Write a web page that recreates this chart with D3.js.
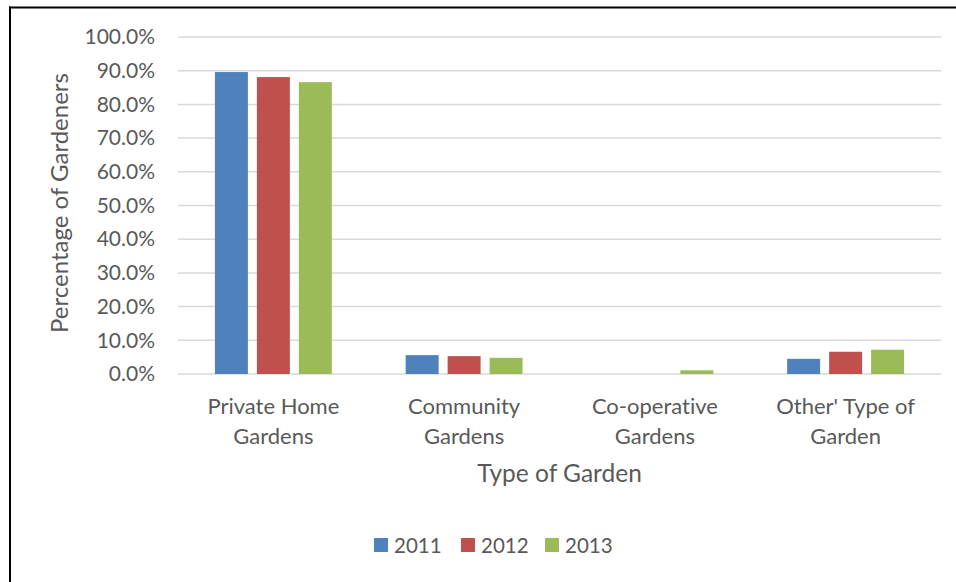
<!DOCTYPE html>
<html>
<head>
<meta charset="utf-8">
<script src="https://cdn.jsdelivr.net/npm/d3@7/dist/d3.min.js"></script>
<style>
  html, body { margin: 0; padding: 0; background: #fff; }
  svg { display: block; }
  text { font-family: Lato, "Open Sans", sans-serif; fill: #595959; font-variant-ligatures: none; font-feature-settings: "liga" 0, "clig" 0; }
</style>
</head>
<body>
<svg id="chart" width="956" height="582"></svg>
<script>
// Gardening survey: share of gardeners by type of garden, per year
const categories = [["Private Home", "Gardens"], ["Community", "Gardens"], ["Co-operative", "Gardens"], ["Other' Type of", "Garden"]];
const years = ["2011", "2012", "2013"];
const values2011 = [0.896, 0.056, 0.000, 0.045];
const values2012 = [0.881, 0.053, 0.000, 0.066];
const values2013 = [0.866, 0.048, 0.011, 0.072];
const yTicks = [0, 0.1, 0.2, 0.3, 0.4, 0.5, 0.6, 0.7, 0.8, 0.9, 1.0];
const colors = ["#4F81BD", "#C0504D", "#9BBB59"];

const series = [values2011, values2012, values2013];
const catKeys = categories.map(c => c.join(" "));

const svg = d3.select("#chart");

// Frame lines along the top and left edges
svg.append("line").attr("x1", 9).attr("x2", 956).attr("y1", 7.5).attr("y2", 7.5)
  .attr("stroke", "#000").attr("stroke-width", 2);
svg.append("line").attr("x1", 10).attr("x2", 10).attr("y1", 6.5).attr("y2", 582)
  .attr("stroke", "#000").attr("stroke-width", 2);

const plot = { left: 178, right: 941, top: 37, bottom: 374 };

const x = d3.scaleBand().domain(catKeys).range([plot.left, plot.right])
  .paddingInner(0.387).paddingOuter(0.1935);
const xs = d3.scaleBand().domain(years).range([0, x.bandwidth()]).paddingInner(0.214);
const y = d3.scaleLinear().domain([0, 1]).range([plot.bottom, plot.top]);

// Gridlines
svg.append("g").selectAll("line").data(yTicks).join("line")
  .attr("x1", plot.left).attr("x2", plot.right)
  .attr("y1", d => y(d)).attr("y2", d => y(d))
  .attr("stroke", "#D9D9D9").attr("stroke-width", 1.5);

// Y axis labels
const yAxis = d3.axisLeft(y).tickValues(yTicks).tickFormat(d3.format(".1%")).tickSize(0).tickPadding(23);
const gy = svg.append("g").attr("transform", `translate(${plot.left},0)`).call(yAxis);
gy.select(".domain").remove();
gy.selectAll("text").style("font-size", "21px").attr("fill", "#595959").style("font-family", "Lato, 'Open Sans', sans-serif");

// Bars
const groups = svg.append("g").selectAll("g").data(years).join("g")
  .attr("fill", (d, i) => colors[i]);
groups.selectAll("rect")
  .data((yr, i) => catKeys.map((c, j) => ({ cat: c, yr, v: series[i][j] })))
  .join("rect")
  .attr("x", d => x(d.cat) + xs(d.yr))
  .attr("width", xs.bandwidth())
  .attr("y", d => y(d.v))
  .attr("height", d => y(0) - y(d.v));

// Category labels (two lines each)
const xl = svg.append("g");
categories.forEach((lines, j) => {
  const cx = x(catKeys[j]) + x.bandwidth() / 2;
  const t = xl.append("text").attr("x", cx).attr("y", 414)
    .attr("text-anchor", "middle").style("font-size", "22px");
  lines.forEach((ln, k) => {
    t.append("tspan").attr("x", cx).attr("dy", k === 0 ? 0 : 30).text(ln);
  });
});

// Axis titles
svg.append("text").attr("x", (plot.left + plot.right) / 2).attr("y", 482)
  .attr("text-anchor", "middle").style("font-size", "24.5px").text("Type of Garden");
svg.append("text").attr("transform", "translate(68,203) rotate(-90)")
  .attr("text-anchor", "middle").style("font-size", "24px").text("Percentage of Gardeners");

// Legend
const legendX = [374, 461, 545];
const lg = svg.append("g").selectAll("g").data(years).join("g")
  .attr("transform", (d, i) => `translate(${legendX[i]},538)`);
lg.append("rect").attr("width", 14).attr("height", 14).attr("fill", (d, i) => colors[i]);
lg.append("text").attr("x", 20).attr("y", 15).style("font-size", "20.5px").text(d => d);
</script>
</body>
</html>
